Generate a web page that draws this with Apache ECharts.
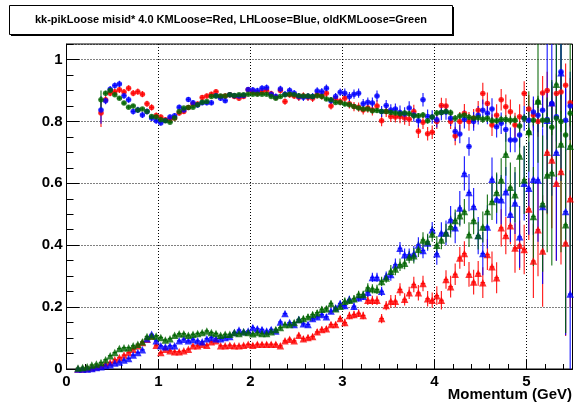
<!DOCTYPE html>
<html>
<head>
<meta charset="utf-8">
<script src="https://cdn.jsdelivr.net/npm/echarts@6/dist/echarts.min.js"></script>
<style>
  html, body { margin: 0; padding: 0; background: #fff; }
  #chart { width: 574px; height: 409px; }
</style>
</head>
<body>
<div id="chart"></div>
<script>
// bins are 0.05 GeV wide; efficiency points start at 0.375, misid*4 points at 0.125
var binWidth = 0.05;
var effStart = 0.375;
var misStart = 0.125;

var xTicks = [0, 1, 2, 3, 4, 5];
var yTicks = [0, 0.2, 0.4, 0.6, 0.8, 1];

// K efficiency (circles)
var redEff = [0.827, 0.870, 0.891, 0.896, 0.902, 0.895, 0.907, 0.891, 0.896, 0.888, 0.857, 0.845, 0.819, 0.814, 0.805, 0.807, 0.811, 0.827, 0.832, 0.845,
  0.856, 0.856, 0.877, 0.882, 0.888, 0.896, 0.880, 0.882, 0.886, 0.880, 0.875, 0.880, 0.902, 0.896, 0.891,
  0.896, 0.900, 0.889, 0.878, 0.900, 0.864, 0.886, 0.882, 0.878, 0.882, 0.878, 0.875, 0.886, 0.882, 0.891, 0.850, 0.872, 0.864, 0.875, 0.857,
  0.848, 0.846, 0.837, 0.843, 0.837, 0.850, 0.802, 0.832, 0.816, 0.814, 0.816, 0.811, 0.807, 0.832, 0.768, 0.797, 0.760, 0.765, 0.800, 0.851, 0.850,
  0.800, 0.753, 0.800, 0.826, 0.800, 0.810, 0.836, 0.890, 0.858, 0.788, 0.820, 0.870, 0.847, 0.831, 0.788, 0.815, 0.890, 0.840, 0.820, 0.800,
  0.892, 0.900, 0.856, 0.890, 0.895, 0.917, 0.860];
var redEffErr = [0.045, 0.012, 0.010, 0.010, 0.010, 0.010, 0.010, 0.010, 0.010, 0.010, 0.010, 0.010, 0.010,
  0.008, 0.008, 0.008, 0.008, 0.008, 0.008, 0.008, 0.008, 0.008, 0.008, 0.008, 0.008, 0.008, 0.008, 0.008, 0.008, 0.008, 0.008, 0.008, 0.008,
  0.010, 0.010, 0.010, 0.010, 0.010, 0.010, 0.010, 0.010, 0.010, 0.010, 0.012, 0.012, 0.012, 0.012, 0.012, 0.012, 0.012, 0.012, 0.012, 0.012,
  0.015, 0.015, 0.015, 0.015, 0.015, 0.015, 0.018, 0.018, 0.018, 0.018, 0.018, 0.018, 0.022, 0.022, 0.022, 0.022, 0.022, 0.022, 0.022, 0.022,
  0.025, 0.025, 0.025, 0.025, 0.030, 0.030, 0.030, 0.030, 0.030, 0.030, 0.035, 0.035, 0.035, 0.035, 0.035, 0.040, 0.040, 0.040, 0.040, 0.040,
  0.045, 0.050, 0.050, 0.055, 0.060, 0.060, 0.065, 0.070, 0.070, 0.080];

var blueEff = [0.837, 0.867, 0.904, 0.916, 0.921, 0.883, 0.870, 0.832, 0.837, 0.821, 0.832, 0.811, 0.802, 0.795, 0.803, 0.814, 0.818, 0.846, 0.837, 0.871,
  0.860, 0.853, 0.860, 0.860, 0.860, 0.883, 0.875, 0.867, 0.886, 0.883, 0.882, 0.884, 0.903, 0.901, 0.899,
  0.907, 0.909, 0.888, 0.880, 0.905, 0.888, 0.900, 0.891, 0.880, 0.878, 0.880, 0.880, 0.898, 0.896, 0.907, 0.867, 0.880, 0.894, 0.891, 0.880,
  0.888, 0.891, 0.857, 0.862, 0.859, 0.882, 0.832, 0.851, 0.837, 0.840, 0.829, 0.824, 0.843, 0.821, 0.802, 0.870, 0.816, 0.814, 0.805, 0.829, 0.830,
  0.810, 0.767, 0.759, 0.807, 0.719, 0.800, 0.820, 0.836, 0.826, 0.840, 0.783, 0.794, 0.774, 0.740, 0.740, 0.756, 0.810, 0.804, 0.830, 0.820,
  0.836, 0.806, 0.858, 0.815, 0.960, 0.804, 0.850];
var blueEffErr = [0.045, 0.012, 0.010, 0.010, 0.010, 0.010, 0.010, 0.010, 0.010, 0.010, 0.010, 0.010, 0.010,
  0.008, 0.008, 0.008, 0.008, 0.008, 0.008, 0.008, 0.008, 0.008, 0.008, 0.008, 0.008, 0.008, 0.008, 0.008, 0.008, 0.008, 0.008, 0.008, 0.008,
  0.010, 0.010, 0.010, 0.010, 0.010, 0.010, 0.010, 0.010, 0.010, 0.010, 0.012, 0.012, 0.012, 0.012, 0.012, 0.012, 0.012, 0.012, 0.012, 0.012,
  0.015, 0.015, 0.015, 0.015, 0.015, 0.015, 0.018, 0.018, 0.018, 0.018, 0.018, 0.018, 0.022, 0.022, 0.022, 0.022, 0.022, 0.022, 0.022, 0.022,
  0.025, 0.025, 0.025, 0.025, 0.030, 0.030, 0.030, 0.030, 0.030, 0.030, 0.035, 0.035, 0.035, 0.035, 0.035, 0.040, 0.040, 0.040, 0.040, 0.040,
  0.045, 0.050, 0.055, 0.060, 0.065, 0.070, 0.080, 0.090, 0.100, 0.110];

var greenEff = [0.870, 0.891, 0.900, 0.886, 0.875, 0.859, 0.846, 0.850, 0.837, 0.840, 0.832, 0.816, 0.814, 0.805, 0.802, 0.797, 0.811, 0.832, 0.843, 0.845,
  0.846, 0.854, 0.862, 0.864, 0.880, 0.882, 0.882, 0.882, 0.886, 0.884, 0.886, 0.886, 0.888, 0.888, 0.888,
  0.888, 0.888, 0.880, 0.875, 0.880, 0.886, 0.888, 0.886, 0.883, 0.882, 0.882, 0.880, 0.883, 0.880, 0.872, 0.870, 0.861, 0.861, 0.856, 0.854,
  0.848, 0.843, 0.840, 0.840, 0.834, 0.835, 0.832, 0.832, 0.829, 0.827, 0.825, 0.827, 0.825, 0.818, 0.818, 0.821, 0.802, 0.814, 0.827, 0.829, 0.832,
  0.828, 0.810, 0.817, 0.820, 0.813, 0.810, 0.812, 0.807, 0.810, 0.802, 0.802, 0.806, 0.806, 0.804, 0.804, 0.785, 0.810, 0.764, 0.804, 0.863,
  0.804, 0.804, 0.781, 0.810, 0.800, 0.756, 0.826];
var greenEffErr = [0.030, 0.008, 0.006, 0.006, 0.006, 0.006, 0.006, 0.006, 0.006, 0.006, 0.006, 0.006, 0.006,
  0.005, 0.005, 0.005, 0.005, 0.005, 0.005, 0.005, 0.005, 0.005, 0.005, 0.005, 0.005, 0.005, 0.005, 0.005, 0.005, 0.005, 0.005, 0.005, 0.005,
  0.005, 0.005, 0.005, 0.005, 0.005, 0.005, 0.005, 0.005, 0.005, 0.005, 0.006, 0.006, 0.006, 0.006, 0.006, 0.006, 0.006, 0.006, 0.006, 0.006,
  0.007, 0.007, 0.007, 0.007, 0.007, 0.007, 0.008, 0.008, 0.008, 0.008, 0.008, 0.008, 0.009, 0.009, 0.009, 0.009, 0.009, 0.009, 0.009, 0.009,
  0.010, 0.010, 0.010, 0.010, 0.011, 0.011, 0.011, 0.011, 0.011, 0.011, 0.012, 0.012, 0.012, 0.012, 0.012, 0.014, 0.014, 0.014, 0.014, 0.014,
  0.016, 0.018, 0.020, 0.022, 0.024, 0.026, 0.030, 0.034, 0.038, 0.040];

// pi misid * 4 (triangles)
var redMis = [0.000, 0.000, 0.002, 0.004, 0.007, 0.011, 0.016, 0.021, 0.030, 0.037, 0.045, 0.053, 0.064, 0.075, 0.086, 0.096, 0.107, 0.077, 0.053, 0.064,
  0.059, 0.056, 0.056, 0.059, 0.064, 0.075, 0.075, 0.080, 0.077, 0.088, 0.091, 0.075, 0.075, 0.077, 0.075, 0.075, 0.077, 0.080, 0.077, 0.080,
  0.080, 0.080, 0.080, 0.080, 0.075, 0.091, 0.096, 0.091, 0.109, 0.098, 0.102, 0.105, 0.120, 0.128, 0.130, 0.144, 0.144, 0.163, 0.150, 0.173,
  0.176, 0.180, 0.173, 0.222, 0.222, 0.222, 0.163, 0.205, 0.219, 0.219, 0.257, 0.225, 0.246, 0.273, 0.246, 0.276, 0.227, 0.222, 0.237, 0.222, 0.289,
  0.266, 0.306, 0.359, 0.373, 0.306, 0.281, 0.309, 0.279, 0.370, 0.330, 0.295, 0.456, 0.431, 0.463, 0.391, 0.400, 0.386, 0.517, 0.349, 0.450,
  0.381, 0.700, 0.675, 0.600, 0.638, 0.407, 0.550];
var redMisErr = [0.002, 0.002, 0.002, 0.002, 0.002, 0.002, 0.003, 0.003, 0.003, 0.003, 0.003, 0.003, 0.004, 0.004, 0.004, 0.004, 0.004, 0.004,
  0.005, 0.005, 0.005, 0.005, 0.005, 0.005, 0.005, 0.005, 0.005, 0.005, 0.005, 0.005, 0.005, 0.005, 0.005, 0.005, 0.005, 0.005, 0.005, 0.005,
  0.007, 0.007, 0.007, 0.007, 0.007, 0.007, 0.007, 0.007, 0.007, 0.007, 0.009, 0.009, 0.009, 0.009, 0.009, 0.009, 0.009, 0.009, 0.009, 0.009,
  0.012, 0.012, 0.012, 0.012, 0.012, 0.015, 0.015, 0.015, 0.015, 0.015, 0.020, 0.020, 0.020, 0.020, 0.020, 0.025, 0.025, 0.025, 0.025, 0.025,
  0.030, 0.030, 0.030, 0.035, 0.035, 0.035, 0.040, 0.040, 0.040, 0.040, 0.050, 0.050, 0.050, 0.050, 0.060, 0.060, 0.060, 0.080, 0.080, 0.080,
  0.100, 0.120, 0.150, 0.180, 0.200, 0.220, 0.250, 0.300, 0.300, 0.350];

var blueMis = [0.000, 0.000, 0.000, 0.002, 0.005, 0.007, 0.011, 0.014, 0.019, 0.023, 0.029, 0.034, 0.045, 0.053, 0.062, 0.098, 0.112, 0.091, 0.075, 0.072,
  0.075, 0.075, 0.091, 0.096, 0.091, 0.096, 0.091, 0.088, 0.098, 0.102, 0.098, 0.098, 0.102, 0.105, 0.118, 0.126, 0.120, 0.123, 0.134, 0.130,
  0.128, 0.123, 0.128, 0.123, 0.152, 0.179, 0.150, 0.144, 0.160, 0.146, 0.144, 0.163, 0.169, 0.176, 0.169, 0.187, 0.198, 0.212, 0.205, 0.225,
  0.203, 0.230, 0.235, 0.248, 0.296, 0.296, 0.251, 0.300, 0.305, 0.337, 0.390, 0.369, 0.369, 0.372, 0.401, 0.383, 0.407, 0.450, 0.372, 0.439, 0.440,
  0.482, 0.456, 0.520, 0.632, 0.570, 0.525, 0.431, 0.373, 0.459, 0.613, 0.549, 0.547, 0.573, 0.500, 0.536, 0.427, 0.600, 0.584, 0.613, 0.611,
  0.525, 0.804, 0.860, 0.700, 0.957, 0.509, 0.242];
var blueMisErr = [0.002, 0.002, 0.002, 0.002, 0.002, 0.002, 0.003, 0.003, 0.003, 0.003, 0.003, 0.003, 0.004, 0.004, 0.004, 0.004, 0.004, 0.004,
  0.005, 0.005, 0.005, 0.005, 0.005, 0.005, 0.005, 0.005, 0.005, 0.005, 0.005, 0.005, 0.005, 0.005, 0.005, 0.005, 0.005, 0.005, 0.005, 0.005,
  0.007, 0.007, 0.007, 0.007, 0.007, 0.007, 0.007, 0.007, 0.007, 0.007, 0.009, 0.009, 0.009, 0.009, 0.009, 0.009, 0.009, 0.009, 0.009, 0.009,
  0.012, 0.012, 0.012, 0.012, 0.012, 0.015, 0.015, 0.015, 0.015, 0.015, 0.020, 0.020, 0.020, 0.020, 0.020, 0.025, 0.025, 0.025, 0.025, 0.025,
  0.035, 0.035, 0.040, 0.045, 0.050, 0.055, 0.055, 0.060, 0.060, 0.060, 0.070, 0.070, 0.070, 0.080, 0.080, 0.080, 0.090, 0.100, 0.100, 0.120,
  0.150, 0.180, 0.200, 0.250, 0.300, 0.300, 0.350, 0.350, 0.400, 0.400];

var greenMis = [0.003, 0.005, 0.007, 0.013, 0.016, 0.021, 0.030, 0.043, 0.053, 0.066, 0.069, 0.069, 0.075, 0.080, 0.088, 0.105, 0.107, 0.107, 0.102, 0.094,
  0.098, 0.109, 0.114, 0.114, 0.109, 0.112, 0.115, 0.118, 0.123, 0.118, 0.115, 0.109, 0.112, 0.112, 0.118, 0.115, 0.120, 0.118, 0.114, 0.118,
  0.115, 0.115, 0.120, 0.128, 0.134, 0.144, 0.144, 0.150, 0.160, 0.163, 0.169, 0.176, 0.182, 0.193, 0.195, 0.212, 0.195, 0.203, 0.219, 0.222,
  0.227, 0.241, 0.241, 0.262, 0.259, 0.257, 0.283, 0.294, 0.316, 0.323, 0.337, 0.342, 0.362, 0.366, 0.387, 0.417, 0.412, 0.436, 0.400, 0.417, 0.439,
  0.460, 0.480, 0.495, 0.509, 0.434, 0.480, 0.431, 0.459, 0.509, 0.541, 0.570, 0.611, 0.694, 0.587, 0.563, 0.688, 0.611, 0.767, 0.493, 0.866,
  0.534, 0.627, 0.634, 0.920, 0.727, 0.466, 0.720];
var greenMisErr = [0.002, 0.002, 0.002, 0.002, 0.002, 0.002, 0.003, 0.003, 0.003, 0.003, 0.003, 0.003, 0.004, 0.004, 0.004, 0.004, 0.004, 0.004,
  0.005, 0.005, 0.005, 0.005, 0.005, 0.005, 0.005, 0.005, 0.005, 0.005, 0.005, 0.005, 0.005, 0.005, 0.005, 0.005, 0.005, 0.005, 0.005, 0.005,
  0.007, 0.007, 0.007, 0.007, 0.007, 0.007, 0.007, 0.007, 0.007, 0.007, 0.009, 0.009, 0.009, 0.009, 0.009, 0.009, 0.009, 0.009, 0.009, 0.009,
  0.012, 0.012, 0.012, 0.012, 0.012, 0.015, 0.015, 0.015, 0.015, 0.015, 0.020, 0.020, 0.020, 0.020, 0.020, 0.025, 0.025, 0.025, 0.025, 0.025,
  0.030, 0.030, 0.030, 0.035, 0.035, 0.035, 0.040, 0.040, 0.045, 0.045, 0.050, 0.055, 0.060, 0.065, 0.070, 0.070, 0.080, 0.090, 0.100, 0.110,
  0.130, 0.160, 0.200, 0.220, 0.250, 0.300, 0.300, 0.350, 0.350, 0.400];

var titleText = 'kk-pikLoose misid* 4.0 KMLoose=Red, LHLoose=Blue, oldKMLoose=Green';
var xTitle = 'Momentum (GeV)';

var RED = '#ff0000', BLUE = '#0000ff', GREEN = '#006400';
var FONT = '"Liberation Sans", Arial, Helvetica, sans-serif';

//把数值和误差拼成 [x, y, err]
function toPoints(start, vals, errs) {
    var pts = [];
    for (var i = 0; i < vals.length; i++) {
        pts.push([+(start + i * binWidth).toFixed(3), vals[i], errs[i]]);
    }
    return pts;
}

function errRender(color) {
    return function (params, api) {
        var x = api.value(0), y = api.value(1), e = api.value(2);
        var lo = api.coord([x, y - e]);
        var hi = api.coord([x, y + e]);
        var l = api.coord([x - binWidth / 2, y]);
        var r = api.coord([x + binWidth / 2, y]);
        var st = {stroke: color, lineWidth: 1.2, opacity: 0.85};
        return {
            type: 'group',
            children: [
                {type: 'line', shape: {x1: lo[0], y1: lo[1], x2: hi[0], y2: hi[1]}, style: st},
                {type: 'line', shape: {x1: l[0], y1: l[1], x2: r[0], y2: r[1]}, style: st}
            ]
        };
    };
}

function addSet(series, color, effPts, misPts) {
    series.push({type: 'custom', renderItem: errRender(color), data: effPts.concat(misPts),
        encode: {x: 0, y: 1}, clip: true, silent: true});
    series.push({type: 'scatter', data: effPts, symbol: 'circle', symbolSize: 5.5,
        itemStyle: {color: color}, clip: true, silent: true});
    series.push({type: 'scatter', data: misPts, symbol: 'triangle', symbolSize: 7.5,
        itemStyle: {color: color}, clip: true, silent: true});
}

var series = [];
addSet(series, RED, toPoints(effStart, redEff, redEffErr), toPoints(misStart, redMis, redMisErr));
addSet(series, BLUE, toPoints(effStart, blueEff, blueEffErr), toPoints(misStart, blueMis, blueMisErr));
addSet(series, GREEN, toPoints(effStart, greenEff, greenEffErr), toPoints(misStart, greenMis, greenMisErr));

var labelStyle = {fontFamily: FONT, fontWeight: 'bold', fontSize: 15, color: '#000'};
var gridLine = {show: true, lineStyle: {color: '#000', type: [1, 2], width: 1}};

var myChart = echarts.init(document.getElementById('chart'), null, {renderer: 'canvas'});
var option = {
    animation: false,
    backgroundColor: '#fff',
    grid: {left: 66.5, right: 1.5, top: 44, bottom: 40, show: true, borderColor: '#000', borderWidth: 1, backgroundColor: 'transparent'},
    xAxis: [
        {
            type: 'value', min: 0, max: 5.5, interval: 1, position: 'bottom',
            axisLine: {show: true, onZero: false, lineStyle: {color: '#000', width: 1}},
            axisTick: {show: true, inside: true, length: 10, lineStyle: {color: '#000'}},
            axisLabel: Object.assign({margin: 5, showMaxLabel: false, formatter: function (v) {
                return xTicks.indexOf(v) >= 0 ? String(v) : '';
            }}, labelStyle),
            splitLine: gridLine
        },
        {
            type: 'value', min: 0, max: 5.5, interval: 0.2, position: 'bottom', offset: 0,
            axisLine: {show: false, onZero: false},
            axisTick: {show: true, inside: true, length: 5, lineStyle: {color: '#000'}},
            axisLabel: {show: false},
            splitLine: {show: false}
        }
    ],
    yAxis: [
        {
            type: 'value', min: 0, max: 1.05, interval: 0.2, position: 'left',
            axisLine: {show: true, onZero: false, lineStyle: {color: '#000', width: 1}},
            axisTick: {show: true, inside: true, length: 13, lineStyle: {color: '#000'}},
            axisLabel: Object.assign({margin: 4, showMaxLabel: false, formatter: function (v) {
                var r = +v.toFixed(2);
                return yTicks.indexOf(r) >= 0 ? String(r) : '';
            }}, labelStyle),
            splitLine: gridLine
        },
        {
            type: 'value', min: 0, max: 1.05, interval: 0.05, position: 'left', offset: 0,
            axisLine: {show: false, onZero: false},
            axisTick: {show: true, inside: true, length: 7, lineStyle: {color: '#000'}},
            axisLabel: {show: false},
            splitLine: {show: false}
        }
    ],
    graphic: [
        {type: 'rect', shape: {x: 11, y: 7, width: 443, height: 29}, style: {fill: '#000'}, z: 10},
        {type: 'rect', shape: {x: 9.5, y: 5.5, width: 443, height: 29}, style: {fill: '#fff', stroke: '#000', lineWidth: 1}, z: 11},
        {type: 'text', x: 231, y: 20, z: 12, style: {text: titleText, fontFamily: FONT, fontWeight: 'bold', fontSize: 11,
            fill: '#000', align: 'center', verticalAlign: 'middle'}},
        {type: 'text', x: 572, y: 395, z: 12, style: {text: xTitle, fontFamily: FONT, fontWeight: 'bold', fontSize: 15,
            fill: '#000', align: 'right', verticalAlign: 'middle'}}
    ],
    series: series
};
myChart.setOption(option);
</script>
</body>
</html>
